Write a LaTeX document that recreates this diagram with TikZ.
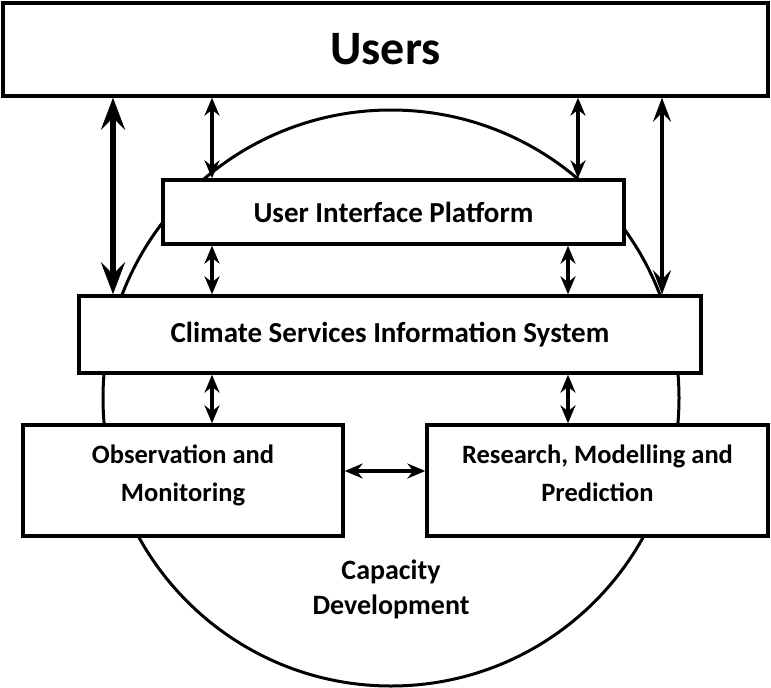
\documentclass[tikz,border=0pt]{standalone}
\usepackage{fontspec}
\setmainfont{Carlito}
\usetikzlibrary{arrows.meta}

\tikzset{
	block/.style={draw=black, line width=3.4pt, fill=white, rectangle, align=center, inner sep=0pt},
	dbl/.style={draw=black, line width=3.4pt, {Stealth[length=18pt, width=15pt, inset=6pt]}-{Stealth[length=18pt, width=15pt, inset=6pt]}},
	dbllong/.style={draw=black, line width=3.6pt, {Stealth[length=24pt, width=18pt, inset=9pt]}-{Stealth[length=24pt, width=18pt, inset=9pt]}},
	dblthick/.style={draw=black, line width=5.6pt, {Stealth[length=32pt, width=24pt, inset=12pt]}-{Stealth[length=32pt, width=24pt, inset=12pt]}},
	txt/.style={font=\bfseries\fontsize{26.5}{38}\selectfont}
}

\begin{document}
\begin{tikzpicture}[x=1pt, y=-1pt]
		\useasboundingbox (0,0) rectangle (771,688);
		% capacity development circle behind the blocks
		\draw[draw=black, line width=3pt] (391,398) circle (288pt);
		\node[font=\bfseries\fontsize{28}{35}\selectfont, align=center] (capdev) at (391,589) {Capacity\\Development};
		% blocks
		\node[block, minimum width=765pt, minimum height=93pt, font=\bfseries\fontsize{48}{52}\selectfont] (users) at (385.5,49.5) {Users};
		\node[block, font=\bfseries\fontsize{29}{34}\selectfont, minimum width=461pt, minimum height=64pt] (uip) at (393.5,212) {User Interface Platform};
		\node[block, font=\bfseries\fontsize{29}{34}\selectfont, minimum width=622pt, minimum height=77pt] (csis) at (390,334.5) {Climate Services Information System};
		\node[block, txt, minimum width=320pt, minimum height=111pt, text depth=14pt] (obs) at (183,480.5) {Observation and\\Monitoring};
		\node[block, txt, minimum width=341pt, minimum height=111pt, text depth=14pt] (res) at (597.5,480.5) {Research, Modelling and\\Prediction};
		% x positions of the vertical links
		\coordinate (xa) at (113,0);
		\coordinate (xb) at (212,0);
		\coordinate (xc) at (578,0);
		\coordinate (xd) at (568,0);
		\coordinate (xe) at (662,0);
		% links
		\draw[dblthick] (users.south -| xa) -- (csis.north -| xa);
		\draw[dbllong] (users.south -| xe) -- (csis.north -| xe);
		\draw[dbl] (users.south -| xb) -- (uip.north -| xb);
		\draw[dbl] (users.south -| xc) -- (uip.north -| xc);
		\draw[dbl] (uip.south -| xb) -- (csis.north -| xb);
		\draw[dbl] (uip.south -| xd) -- (csis.north -| xd);
		\draw[dbl] (csis.south -| xb) -- (obs.north -| xb);
		\draw[dbl] (csis.south -| xd) -- (res.north -| xd);
		\draw[dbl] (obs.east |- 0,471) -- (res.west |- 0,471);
	\end{tikzpicture}
\end{document}
